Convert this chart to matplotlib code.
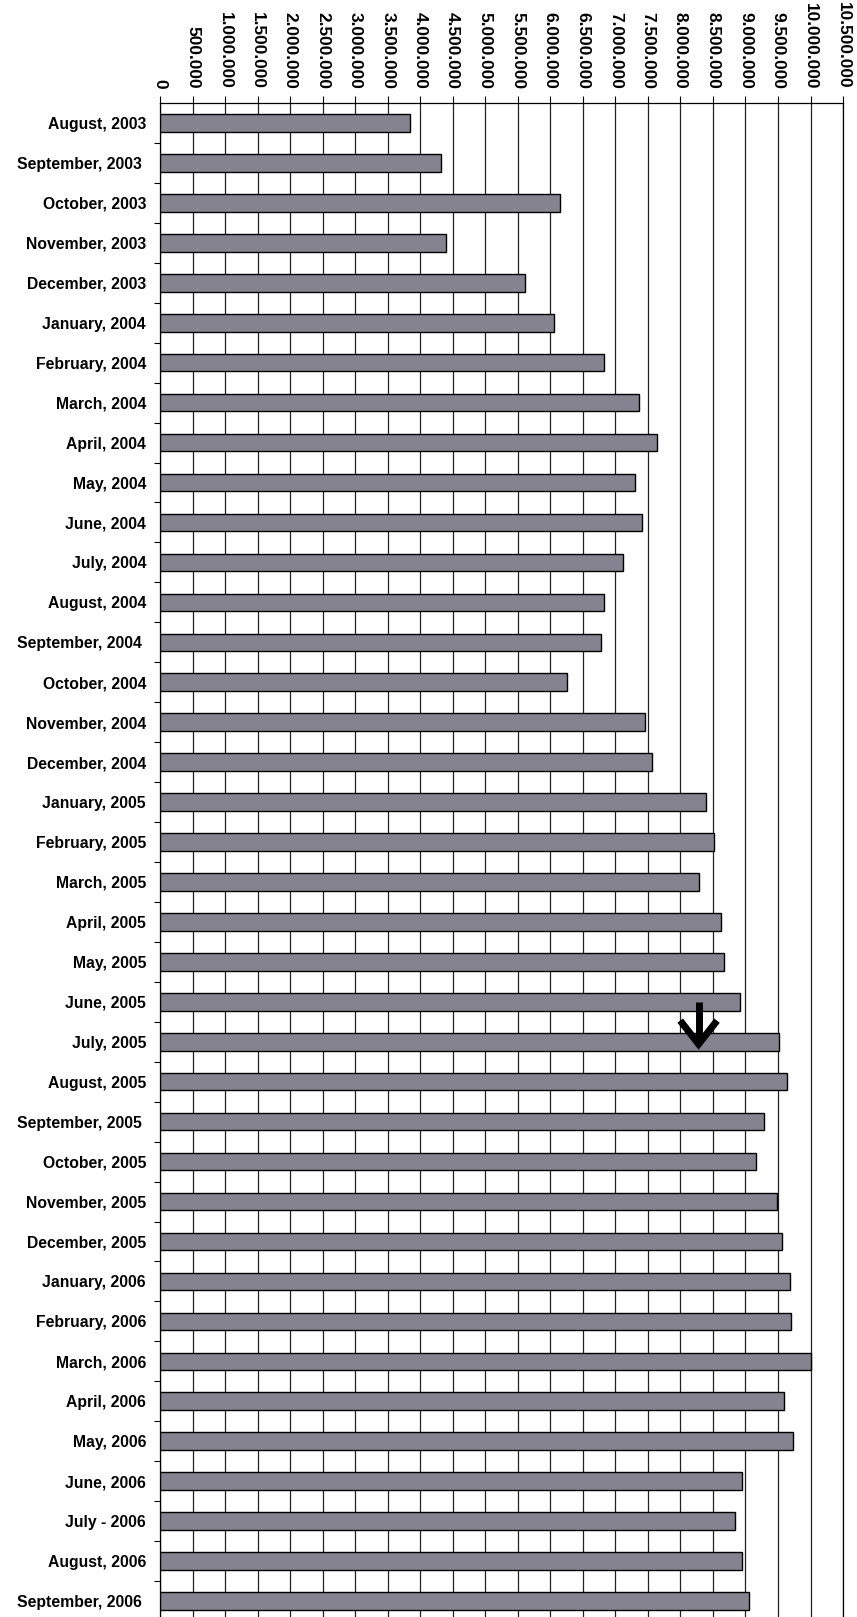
import matplotlib.pyplot as plt
from matplotlib.ticker import FixedLocator

# Monthly values
months = [
    "August, 2003", "September, 2003 ", "October, 2003", "November, 2003",
    "December, 2003", "January, 2004", "February, 2004", "March, 2004",
    "April, 2004", "May, 2004", "June, 2004", "July, 2004", "August, 2004",
    "September, 2004 ", "October, 2004", "November, 2004", "December, 2004",
    "January, 2005", "February, 2005", "March, 2005", "April, 2005",
    "May, 2005", "June, 2005", "July, 2005", "August, 2005",
    "September, 2005 ", "October, 2005", "November, 2005", "December, 2005",
    "January, 2006", "February, 2006", "March, 2006", "April, 2006",
    "May, 2006", "June, 2006", "July - 2006", "August, 2006",
    "September, 2006 ",
]
values = [
    3850000, 4320000, 6150000, 4390000, 5610000, 6050000, 6830000, 7370000,
    7640000, 7300000, 7410000, 7110000, 6830000, 6780000, 6260000, 7450000,
    7570000, 8400000, 8520000, 8290000, 8620000, 8670000, 8910000, 9510000,
    9640000, 9290000, 9160000, 9490000, 9560000, 9680000, 9700000, 10000000,
    9590000, 9730000, 8950000, 8840000, 8950000, 9060000,
]
x_ticks = list(range(0, 10500001, 500000))

# arrow marker pointing at July 2005
arrow_x = 8280000
arrow_from = "June, 2005"
arrow_to = "July, 2005"

plt.rcParams["font.family"] = ["Liberation Sans", "DejaVu Sans"]

fig = plt.figure(figsize=(8.57, 16.17), dpi=100)
ax = fig.add_axes([0.1867, 0.0, 0.797, 0.9363])

ypos = list(range(len(months)))
ax.barh(ypos, values, height=0.44, color="#84838f", edgecolor="black",
        linewidth=1.0, zorder=3)

ax.set_xlim(0, 10500000)
ax.set_ylim(37.4, -0.5)

# top axis with rotated labels
ax.xaxis.tick_top()
ax.set_xticks(x_ticks)
ax.set_xticklabels([f"{v:,}".replace(",", ".") for v in x_ticks],
                   rotation=-90, fontsize=12.4, fontweight="bold")
ax.tick_params(axis="x", length=5, width=0.8, pad=5, direction="out")

# category labels, ticks on category boundaries
ax.set_yticks(ypos)
ax.set_yticklabels(months, fontsize=11.3, fontweight="bold")
ax.yaxis.set_minor_locator(FixedLocator([k + 0.5 for k in ypos]))
ax.tick_params(axis="y", which="major", length=0, pad=10)
ax.tick_params(axis="y", which="minor", length=4, width=0.8)

ax.grid(axis="x", color="#222222", linewidth=0.9, zorder=0)
ax.set_axisbelow(True)
for side in ["top", "left", "right"]:
    ax.spines[side].set_linewidth(0.9)
ax.spines["bottom"].set_visible(False)

# thick down arrow
y0 = months.index(arrow_from)
y1 = months.index(arrow_to) + 0.06
ax.plot([arrow_x, arrow_x], [y0, y1 - 0.08], color="black", lw=5,
        solid_capstyle="butt", zorder=5)
ax.plot([arrow_x - 250000, arrow_x, arrow_x + 250000],
        [y1 - 0.52, y1, y1 - 0.52], color="black", lw=5,
        solid_joinstyle="miter", zorder=5)

fig.savefig("out.png", dpi=100)
